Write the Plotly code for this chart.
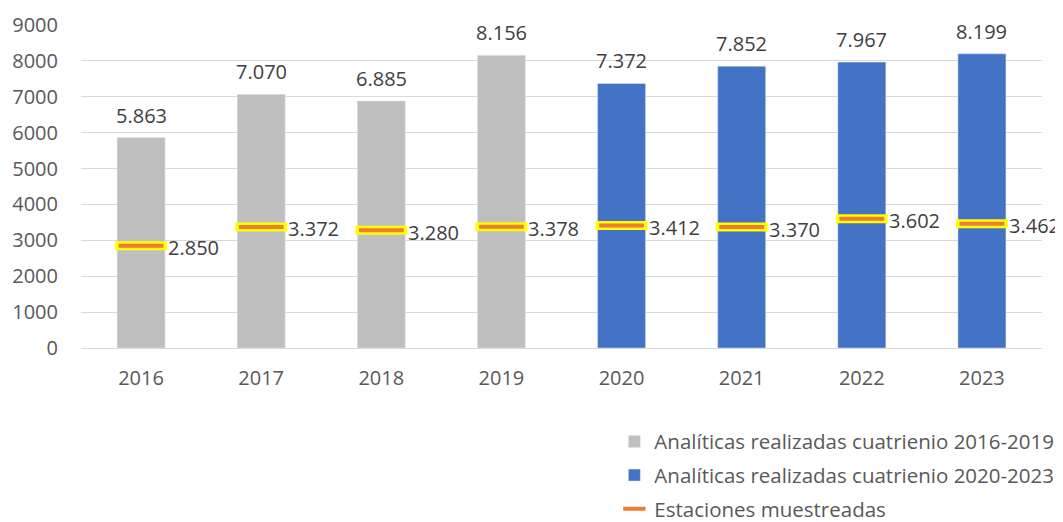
import plotly.graph_objects as go

# datos
years_a = ["2016", "2017", "2018", "2019"]
analiticas_a = [5863, 7070, 6885, 8156]
years_b = ["2020", "2021", "2022", "2023"]
analiticas_b = [7372, 7852, 7967, 8199]
years = years_a + years_b
analiticas = analiticas_a + analiticas_b
estaciones = [2850, 3372, 3280, 3378, 3412, 3370, 3602, 3462]

FONT = "Open Sans"
GREY_TXT = "#595959"
VAL_TXT = "#404040"
FS = 20


def fmt(v):
    # separador de miles con punto
    return f"{v:,}".replace(",", ".")


fig = go.Figure()

fig.add_trace(go.Bar(
    x=years_a, y=analiticas_a, name="Analíticas realizadas cuatrienio 2016-2019",
    marker_color="#BFBFBF", width=0.4, legendgroup="a",
))
fig.add_trace(go.Bar(
    x=years_b, y=analiticas_b, name="Analíticas realizadas cuatrienio 2020-2023",
    marker_color="#4472C4", width=0.4, legendgroup="b",
))

# borde amarillo de las marcas
fig.add_trace(go.Scatter(
    x=years, y=estaciones, mode="markers", showlegend=False, hoverinfo="skip",
    marker=dict(symbol="line-ew", size=37, line=dict(color="#FFFF00", width=9)),
    legendgroup="c",
))
fig.add_trace(go.Scatter(
    x=years, y=estaciones, mode="markers", name="Estaciones muestreadas",
    marker=dict(symbol="line-ew", size=32, line=dict(color="#ED7D31", width=4)),
    legendgroup="c",
))

# etiquetas (x = indice de categoria)
for i, v in enumerate(analiticas):
    fig.add_annotation(
        x=i, y=v, text=fmt(v), showarrow=False,
        yanchor="bottom", yshift=7,
        font=dict(family=FONT, size=FS, color=VAL_TXT),
    )
for i, v in enumerate(estaciones):
    fig.add_annotation(
        x=i, y=v, text=fmt(v), showarrow=False,
        xanchor="left", xshift=25, yshift=-2,
        font=dict(family=FONT, size=FS, color=VAL_TXT),
    )

fig.update_layout(
    width=1055, height=514,
    margin=dict(l=73, r=21, t=17, b=174, autoexpand=False),
    paper_bgcolor="white", plot_bgcolor="white",
    font=dict(family=FONT, size=FS, color=GREY_TXT),
    barmode="overlay",
    legend=dict(
        x=0.555, y=-0.228, xanchor="left", yanchor="top",
        orientation="v", traceorder="grouped", tracegroupgap=4,
        font=dict(size=20.5, color=GREY_TXT),
    ),
    xaxis=dict(
        type="category", categoryorder="array", categoryarray=years,
        range=[-0.5, len(years) - 0.5],
        showline=True, linecolor="#D9D9D9", linewidth=1,
        ticks="", tickfont=dict(size=FS, color=GREY_TXT),
        ticklabelstandoff=12, automargin=False,
    ),
    yaxis=dict(
        range=[0, 9000], dtick=1000, showgrid=True, gridcolor="#D9D9D9",
        zeroline=False, ticks="", tickfont=dict(size=FS, color=GREY_TXT),
        ticklabelstandoff=22, automargin=False,
    ),
)

fig.write_html("out.html")
